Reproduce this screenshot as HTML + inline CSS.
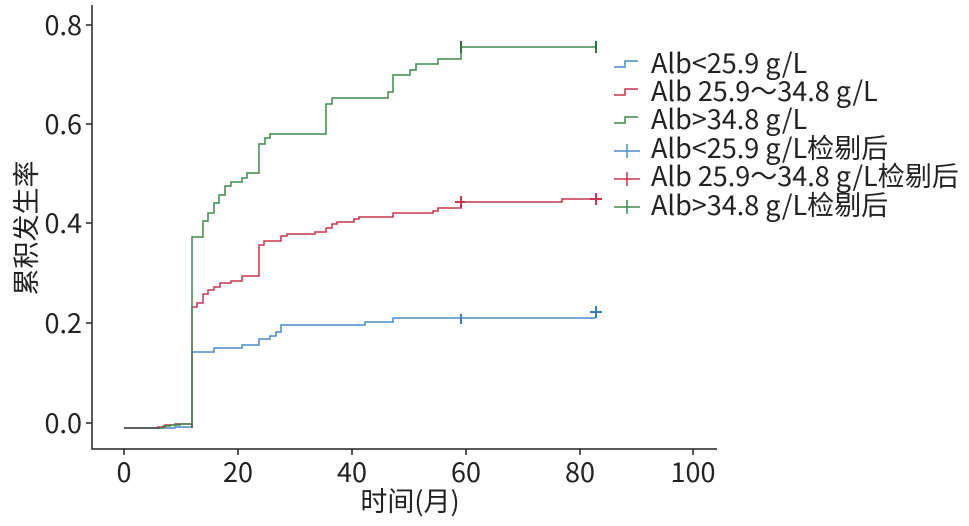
<!DOCTYPE html>
<html><head><meta charset="utf-8"><style>
body{margin:0;background:#fff}
svg text{font-family:"Noto Sans CJK SC","Liberation Sans",sans-serif;fill:#222}
</style></head><body>
<svg width="969" height="521" viewBox="0 0 969 521" xmlns="http://www.w3.org/2000/svg">
<g stroke="#222" stroke-width="1.5" fill="none">
<path d="M92 5V449H717"/>
<path d="M124 449v6M238 449v6M352 449v6M466 449v6M580 449v6M693 449v6"/>
<path d="M86 423h6M86 323h6M86 223h6M86 124h6M86 25h6"/>
</g>
<g font-size="27" text-anchor="middle">
<text x="124" y="482">0</text><text x="238" y="482">20</text><text x="352" y="482">40</text><text x="466" y="482">60</text><text x="580" y="482">80</text><text x="693" y="482">100</text>
</g>
<g font-size="27" text-anchor="end">
<text x="82" y="433">0.0</text><text x="82" y="333">0.2</text><text x="82" y="233">0.4</text><text x="82" y="134">0.6</text><text x="82" y="35">0.8</text>
</g>
<text x="410" y="511" font-size="27" text-anchor="middle">时间(月)</text>
<text transform="translate(36,228) rotate(-90)" font-size="27" text-anchor="middle">累积发生率</text>
<g fill="none" stroke-width="1.5">
<path stroke="#4a8ac9" d="M124 428H175V427H192V352H214V348H242V345H259V339H270V336H276V332H281V325H365V322H393V318H596"/>
<path stroke="#c9344f" d="M124 428H158V427H165V425H175V424H192V307H197V303H203V294H208V290H214V287H220V283H231V281H242V276H259V245H264V241H281V236H287V234H315V232H326V228H332V224H337V222H354V219H359V217H393V213H433V211H438V208H461V202H562V199H596"/>
<path stroke="#3c8a4a" d="M124 428H163V426H170V425H180V424H192V237H203V221H208V213H214V203H219V195H225V186H231V182H242V178H247V173H259V144H265V138H270V134H326V104H332V98H388V92H393V75H410V70H416V64H438V59H461V47H596"/>
<path stroke="#555" d="M124 428H160M192 424V428"/>
</g>
<g stroke-width="2">
<path stroke="#3a7bc0" d="M461 314v10M596 306v12M590 312h12"/>
<path stroke="#c9344f" d="M461 196v12M455 202h10M596 193v12M590 199h12"/>
<path stroke="#2f7040" d="M461 41v12M596 41v12"/>
</g>
<g fill="none" stroke-width="1.5">
<path stroke="#4a8ac9" d="M614 67h11v-6h13"/>
<path stroke="#c9344f" d="M614 95h11v-6h13"/>
<path stroke="#3c8a4a" d="M614 123h11v-6h13"/>
<path stroke="#4a8ac9" d="M614 151h26M627 144v14"/>
<path stroke="#c9344f" d="M614 179h26M627 172v14"/>
<path stroke="#3c8a4a" d="M614 207h26M627 200v14"/>
</g>
<g font-size="27">
<text x="651" y="73">Alb&lt;25.9 g/L</text>
<text x="651" y="101">Alb 25.9～34.8 g/L</text>
<text x="651" y="129">Alb&gt;34.8 g/L</text>
<text x="651" y="158">Alb&lt;25.9 g/L检剔后</text>
<text x="651" y="186">Alb 25.9～34.8 g/L检剔后</text>
<text x="651" y="215">Alb&gt;34.8 g/L检剔后</text>
</g>
</svg>
</body></html>
